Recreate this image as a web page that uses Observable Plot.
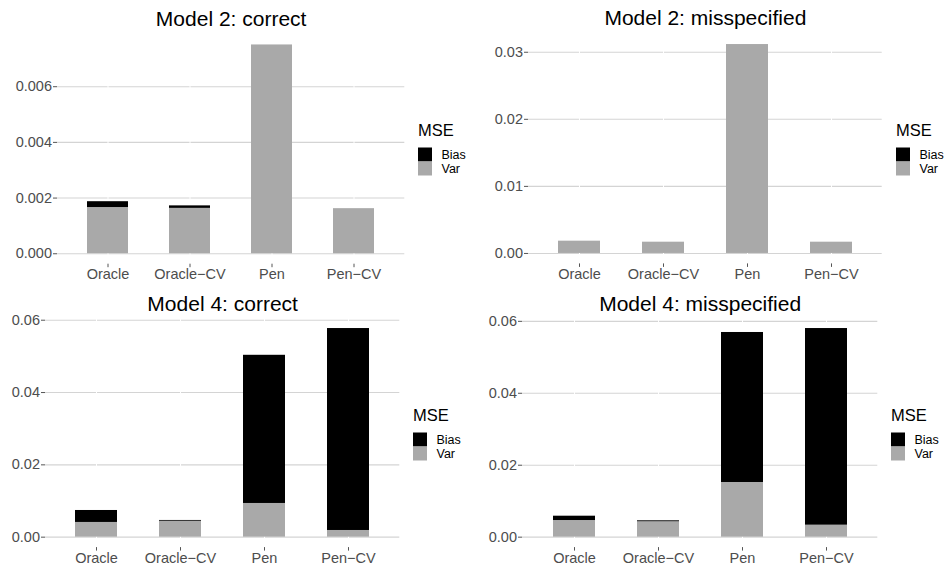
<!DOCTYPE html>
<html>
<head>
<meta charset="utf-8">
<script src="https://cdn.jsdelivr.net/npm/d3@7"></script>
<script src="https://cdn.jsdelivr.net/npm/@observablehq/plot@0.6"></script>
<style>
  html, body { margin: 0; padding: 0; background: white; }
  #root { position: relative; width: 950px; height: 570px; overflow: hidden; font-family: "Liberation Sans", Arial, sans-serif; }
  .panel { position: absolute; }
  .legend { position: absolute; }
</style>
</head>
<body>
<div id="root"></div>
<script>
// ---- data ----
const categories = ["Oracle", "Oracle\u2212CV", "Pen", "Pen\u2212CV"];
const components = ["Bias", "Var"];
const componentColors = ["#000000", "#A9A9A9"];
const legendTitle = "MSE";
const panelTitles = ["Model 2: correct", "Model 2: misspecified", "Model 4: correct", "Model 4: misspecified"];

const varM2correct  = [0.00166, 0.00163, 0.00750, 0.00162];
const biasM2correct = [0.00021, 0.00009, 0.00000, 0.00000];
const varM2mis      = [0.00183, 0.00168, 0.03115, 0.00168];
const biasM2mis     = [0.00000, 0.00000, 0.00000, 0.00000];
const varM4correct  = [0.00407, 0.00440, 0.00932, 0.00185];
const biasM4correct = [0.00331, 0.00022, 0.04098, 0.05585];
const varM4mis      = [0.00463, 0.00428, 0.01520, 0.00333];
const biasM4mis     = [0.00120, 0.00027, 0.04170, 0.05467];

const ticksM2correct = [0, 0.002, 0.004, 0.006];
const ticksM2mis     = [0, 0.01, 0.02, 0.03];
const ticksM4correct = [0, 0.02, 0.04, 0.06];
const ticksM4mis     = [0, 0.02, 0.04, 0.06];

// ---- layout (per panel) ----
const panels = [
  {title: panelTitles[0], v: varM2correct, b: biasM2correct, ticks: ticksM2correct, fmt: ".3f",
   left: 0, top: 0, mL: 57, mR: 70.7, mT: 34, mB: 21.3, titleDy: -9},
  {title: panelTitles[1], v: varM2mis, b: biasM2mis, ticks: ticksM2mis, fmt: ".2f",
   left: 475, top: 0, mL: 53, mR: 68.3, mT: 33.6, mB: 21.6, titleDy: -8.6},
  {title: panelTitles[2], v: varM4correct, b: biasM4correct, ticks: ticksM4correct, fmt: ".2f",
   left: 0, top: 285, mL: 45, mR: 75.7, mT: 32.6, mB: 22.9, titleDy: -7.6},
  {title: panelTitles[3], v: varM4mis, b: biasM4mis, ticks: ticksM4mis, fmt: ".2f",
   left: 475, top: 285, mL: 47, mR: 72.7, mT: 32.6, mB: 22.9, titleDy: -7.6}
];

const root = document.getElementById("root");

panels.forEach(p => {
  const rows = [];
  categories.forEach((c, i) => {
    rows.push({method: c, component: "Var", value: p.v[i]});
    rows.push({method: c, component: "Bias", value: p.b[i]});
  });
  const maxTotal = d3.max(categories, (c, i) => p.v[i] + p.b[i]);
  const chart = Plot.plot({
    width: 475,
    height: 285,
    marginLeft: p.mL, marginRight: p.mR, marginTop: p.mT, marginBottom: p.mB,
    style: {fontFamily: "'Liberation Sans', Arial, sans-serif", fontSize: "14.5px", color: "#4D4D4D", background: "white"},
    x: {type: "band", domain: categories, paddingInner: 0.5, paddingOuter: 0.35, label: null},
    y: {domain: [-0.05 * maxTotal, 1.05 * maxTotal], label: null},
    color: {domain: components, range: componentColors},
    marks: [
      Plot.gridY(p.ticks, {stroke: "#D4D4D4", strokeOpacity: 1, strokeWidth: 1.1}),
      Plot.gridX({stroke: "white", strokeOpacity: 1, strokeWidth: 1}),
      Plot.barY(rows, {x: "method", y: "value", fill: "component"}),
      Plot.axisY(p.ticks, {tickSize: 4, tickPadding: 1.5, tickFormat: d3.format(p.fmt), label: null, stroke: "#555"}),
      Plot.axisX({tickSize: 3.5, tickPadding: 1.2, label: null, stroke: "#555"}),
      Plot.text([p.title], {frameAnchor: "top", lineAnchor: "bottom", dy: p.titleDy, fontSize: 21, fill: "black", text: d => d})
    ]
  });
  const wrap = document.createElement("div");
  wrap.className = "panel";
  wrap.style.left = p.left + "px";
  wrap.style.top = p.top + "px";
  wrap.appendChild(chart);
  root.appendChild(wrap);

  // legend
  const legendX = p.left + 475 - p.mR + 14;
  const svg = d3.select(root).append("svg")
    .attr("class", "legend")
    .attr("width", 70).attr("height", 70)
    .style("left", legendX + "px")
    .style("top", (p.top + 115) + "px")
    .style("font-family", "'Liberation Sans', Arial, sans-serif");
  svg.append("text").attr("x", 0).attr("y", 21.3).attr("font-size", 16.5).attr("fill", "black").text(legendTitle);
  components.forEach((c, i) => {
    svg.append("rect").attr("x", 0).attr("y", 32.5 + i * 14).attr("width", 14).attr("height", 14).attr("fill", componentColors[i]);
    svg.append("text").attr("x", 23.5).attr("y", 32.5 + i * 14 + 11.5).attr("font-size", 12.5).attr("fill", "black").text(c);
  });
});
</script>
</body>
</html>
